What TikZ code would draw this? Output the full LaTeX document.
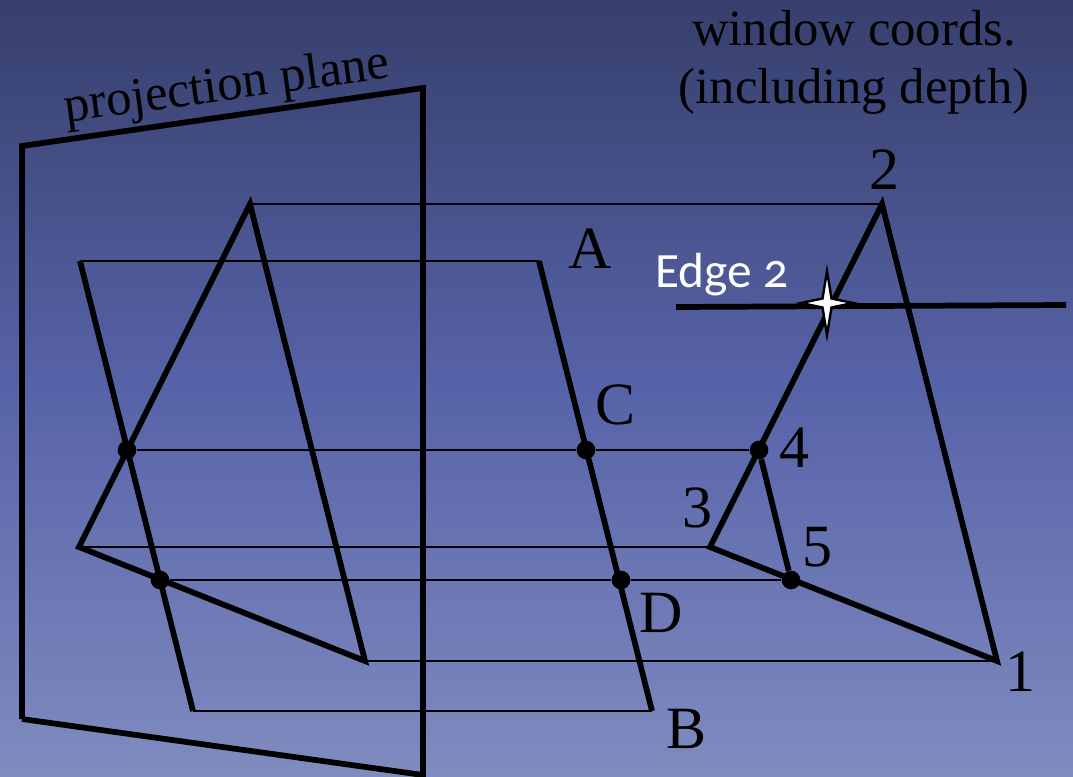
\documentclass[tikz,border=0pt]{standalone}
\usepackage{fontspec}
\setmainfont{Liberation Serif}
\newfontfamily\edgefont[Numbers=OldStyle]{Carlito}
\definecolor{bgtop}{HTML}{363F6C}
\definecolor{bgmid}{HTML}{5763A8}
\definecolor{bgbot}{HTML}{808BC0}
\tikzset{
  heavy/.style={line width=4.3pt, line join=miter},
  guide/.style={line width=0.8pt},
  dot/.style={circle, fill=black, inner sep=0pt, minimum size=14pt},
  biglabel/.style={font=\fontsize{45}{50}\selectfont, inner sep=0pt},
  titlelabel/.style={font=\fontsize{38}{42}\selectfont, inner sep=0pt},
  glint/.style={draw=black, fill=white, line width=1.8pt, miter limit=30, line join=miter}
}
\begin{document}
\begin{tikzpicture}[x=0.75pt, y=-0.75pt]
\useasboundingbox (0,0) rectangle (1073,777);
\shade[top color=bgtop, bottom color=bgbot, middle color=bgmid] (0,0) rectangle (1073,777);
\coordinate (planea) at (22,146);
\coordinate (planeb) at (423,88);
\coordinate (planec) at (423,777);
\coordinate (planed) at (22,719);
\coordinate (plane-low) at (423,775);
\coordinate (lefttop) at (250,204);
\coordinate (leftmid) at (79,547);
\coordinate (leftlow) at (365,661);
\coordinate (quada) at (80,261);
\coordinate (quadb) at (193,711);
\coordinate (edgea) at (539,261);
\coordinate (edgeb) at (652,711);
\coordinate (winone) at (997,661);
\coordinate (wintwo) at (882,204);
\coordinate (winthree) at (710,547);
\coordinate (clipa) at (676,307);
\coordinate (clipb) at (1066,305);
\node[dot] (hitleft) at (127,450) {};
\node[dot] (hitlow) at (160,580) {};
\node[dot] (hitc) at (586,450) {};
\node[dot] (hitd) at (621,580) {};
\node[dot] (winfour) at (759,450) {};
\node[dot] (winfive) at (791,580) {};
\draw[guide] (lefttop) -- (wintwo);
\draw[guide] (quada) -- (edgea);
\draw[guide] (hitleft) -- (hitc);
\draw[guide] (hitc) -- (winfour);
\draw[guide] (leftmid) -- (winthree);
\draw[guide] (hitlow) -- (hitd);
\draw[guide] (hitd) -- (winfive);
\draw[guide] (leftlow) -- (winone);
\draw[guide] (quadb) -- (edgeb);
\draw[heavy] (planed) -- (planea) -- (planeb) -- (planec);
\draw[heavy] (planed) -- (plane-low);
\draw[heavy] (lefttop) -- (leftmid) -- (leftlow) -- cycle;
\draw[heavy] (quada) -- (quadb);
\draw[heavy] (edgea) -- (edgeb);
\draw[heavy] (wintwo) -- (winthree) -- (winone) -- cycle;
\draw[heavy] (winfour) -- (winfive);
\draw[heavy] (clipa) -- (clipb);
\draw[glint] (827,271) -- (831.5,298.5) -- (853,303) -- (831.5,307.5) -- (827,335) -- (822.5,307.5) -- (801,303) -- (822.5,298.5) -- cycle;
\node[biglabel] (labela) at (590,249) {A};
\node[biglabel] (labelb) at (686,729) {B};
\node[biglabel] (labelc) at (616,405) {C};
\node[biglabel] (labeld) at (661,613) {D};
\node[biglabel] (labelone) at (1020,672) {1};
\node[biglabel] (labeltwo) at (884,170) {2};
\node[biglabel] (labelthree) at (697,508) {3};
\node[biglabel] (labelfour) at (794,448) {4};
\node[biglabel] (labelfive) at (817,547) {5};
\node[titlelabel] (window) at (854,28) {window coords.};
\node[titlelabel] (depth) at (854,91) {(including depth)};
\node[titlelabel, rotate=7.8] (plane) at (227,88) {projection plane};
\node[font=\edgefont\fontsize{37}{40}\selectfont, text=white, inner sep=0pt] (edgetwo) at (722,275) {Edge 2};
\end{tikzpicture}
\end{document}
